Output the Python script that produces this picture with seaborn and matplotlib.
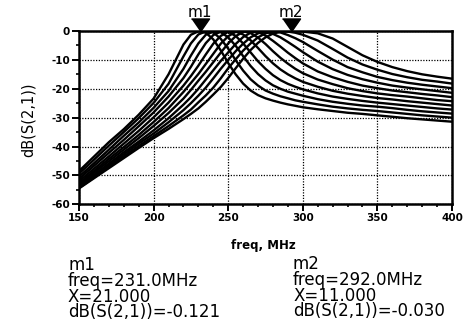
import numpy as np
import pandas as pd
import matplotlib
matplotlib.use('Agg')
import matplotlib.pyplot as plt
import seaborn as sns

# frequency sweep (MHz)
freq_mhz = [150, 160, 170, 180, 190, 200, 210, 220, 225, 230, 235, 240, 245, 250, 255, 260, 265,
            270, 275, 280, 285, 290, 295, 300, 310, 320, 330, 340, 350, 360, 370, 380, 390, 400]

# dB(S(2,1)) for each tuning value X
s21_x21 = [-48.5, -43.5, -38.5, -34.0, -29.0, -23.4, -15.0, -4.7, -1.3, -0.1, -0.6, -2.9, -6.7, -11.1, -15.0, -18.2, -20.6,
           -22.2, -23.3, -24.1, -24.8, -25.4, -25.9, -26.4, -27.1, -27.7, -28.3, -28.7, -29.2, -29.7, -30.2, -30.6, -31.0, -31.4]
s21_x20 = [-49.4, -44.6, -39.7, -35.0, -30.2, -24.9, -18.3, -8.8, -4.3, -1.2, -0.1, -0.5, -2.7, -6.1, -10.1, -13.7, -16.7,
           -18.9, -20.6, -21.7, -22.6, -23.3, -24.0, -24.5, -25.4, -26.2, -26.8, -27.3, -27.7, -28.2, -28.7, -29.2, -29.6, -30.0]
s21_x19 = [-50.4, -45.8, -41.1, -36.3, -31.7, -26.6, -20.8, -13.1, -8.5, -4.3, -1.3, -0.2, -0.4, -2.2, -5.1, -8.7, -12.1,
           -14.9, -17.1, -18.8, -20.0, -21.0, -21.7, -22.4, -23.6, -24.5, -25.2, -25.8, -26.2, -26.7, -27.3, -27.8, -28.2, -28.6]
s21_x18 = [-51.2, -46.7, -42.2, -37.7, -33.0, -28.2, -22.7, -16.3, -12.4, -8.1, -4.2, -1.4, -0.2, -0.3, -1.7, -4.3, -7.4,
           -10.5, -13.1, -15.3, -17.0, -18.3, -19.3, -20.2, -21.6, -22.7, -23.5, -24.2, -24.8, -25.3, -25.8, -26.3, -26.8, -27.2]
s21_x17 = [-52.0, -47.7, -43.4, -39.0, -34.6, -29.9, -24.8, -18.9, -15.6, -12.0, -8.1, -4.4, -1.7, -0.3, -0.2, -1.2, -3.2,
           -5.9, -8.7, -11.2, -13.3, -15.0, -16.4, -17.6, -19.3, -20.7, -21.7, -22.5, -23.2, -23.7, -24.3, -24.8, -25.3, -25.8]
s21_x16 = [-52.7, -48.5, -44.3, -40.2, -36.0, -31.5, -26.7, -21.1, -18.0, -14.9, -11.4, -7.9, -4.4, -1.8, -0.3, -0.1, -0.7,
           -2.3, -4.5, -7.0, -9.3, -11.3, -13.1, -14.6, -16.8, -18.4, -19.8, -20.8, -21.6, -22.2, -22.7, -23.3, -23.9, -24.3]
s21_x15 = [-53.2, -49.1, -45.1, -41.1, -37.1, -32.9, -28.4, -23.4, -20.4, -17.2, -14.1, -10.8, -7.5, -4.3, -1.8, -0.3, 0.0,
           -0.3, -1.6, -3.4, -5.4, -7.5, -9.4, -11.2, -14.0, -16.0, -17.6, -18.9, -19.8, -20.6, -21.2, -21.8, -22.3, -22.9]
s21_x14 = [-53.8, -49.8, -45.9, -42.0, -38.3, -34.4, -30.2, -25.5, -22.9, -20.0, -16.8, -13.6, -10.4, -7.4, -4.5, -2.1, -0.6,
           -0.1, -0.2, -1.0, -2.2, -3.8, -5.5, -7.3, -10.6, -13.2, -15.2, -16.7, -17.9, -18.9, -19.6, -20.2, -20.8, -21.4]
s21_x13 = [-54.1, -50.3, -46.5, -42.7, -39.0, -35.5, -31.6, -27.4, -25.0, -22.4, -19.6, -16.4, -13.1, -10.0, -7.0, -4.4, -2.2,
           -0.8, -0.1, -0.1, -0.5, -1.4, -2.5, -3.8, -6.9, -9.9, -12.5, -14.3, -15.9, -17.0, -17.9, -18.6, -19.2, -19.8]
s21_x12 = [-54.4, -50.7, -47.1, -43.4, -39.8, -36.4, -32.9, -29.2, -27.2, -24.7, -22.3, -19.6, -16.4, -12.9, -9.8, -6.8, -4.3,
           -2.2, -0.8, -0.2, 0.0, -0.2, -0.6, -1.3, -3.3, -6.2, -9.2, -11.6, -13.4, -14.9, -16.0, -16.9, -17.5, -18.2]
s21_x11 = [-54.5, -51.0, -47.5, -44.0, -40.5, -37.1, -33.9, -30.5, -28.7, -26.8, -24.5, -22.0, -19.4, -16.3, -12.9, -9.6, -6.6,
           -4.1, -2.2, -0.9, -0.3, 0.0, -0.1, -0.2, -0.8, -2.6, -5.5, -8.4, -10.7, -12.5, -13.9, -15.0, -15.8, -16.5]

# marker readouts
marker_names = ['m1', 'm2']
marker_freq = [231.0, 292.0]
marker_x = [21.0, 11.0]
marker_db = [-0.121, -0.030]

curves = {21: s21_x21, 20: s21_x20, 19: s21_x19, 18: s21_x18, 17: s21_x17, 16: s21_x16,
          15: s21_x15, 14: s21_x14, 13: s21_x13, 12: s21_x12, 11: s21_x11}

rows = []
for xval, vals in curves.items():
    for f, v in zip(freq_mhz, vals):
        rows.append({'freq': f, 'dB': v, 'X': xval})
df = pd.DataFrame(rows)

sns.set_style('ticks')
plt.rcParams['font.family'] = ['DejaVu Sans']
plt.rcParams['axes.unicode_minus'] = False
plt.rcParams['text.color'] = 'black'
plt.rcParams['axes.labelcolor'] = 'black'
plt.rcParams['xtick.color'] = 'black'
plt.rcParams['ytick.color'] = 'black'

fig = plt.figure(figsize=(4.68, 3.26), dpi=100)
ax = fig.add_axes([0.1688, 0.3733, 0.797, 0.5316])

sns.lineplot(data=df, x='freq', y='dB', hue='X', palette={k: 'black' for k in curves},
             estimator=None, sort=True, legend=False, linewidth=1.7, ax=ax)

ax.set_xlim(150, 400)
ax.set_ylim(-60, 0)
ax.set_xticks(range(150, 401, 50))
ax.set_xticks(range(150, 401, 10), minor=True)
ax.set_yticks(range(-60, 1, 10))
ax.set_yticks(range(-60, 1, 5), minor=True)
ax.set_xlabel('')
ax.set_ylabel('')

ax.grid(True, which='major', color='black', linestyle=(0, (1, 1.2)), linewidth=0.9)
ax.set_axisbelow(True)
for sp in ax.spines.values():
    sp.set_visible(True)
    sp.set_linewidth(1.8)
    sp.set_color('black')

ax.tick_params(which='major', direction='out', length=5, width=1.4, labelsize=7.5, pad=1.5,
               colors='black', labelcolor='black')
ax.tick_params(which='minor', direction='out', length=2.5, width=1.2, colors='black')
for lab in ax.get_xticklabels() + ax.get_yticklabels():
    lab.set_fontweight('bold')

# markers above the plot
tri = [(-1, 0.72), (1, 0.72), (0, -0.72)]
for name, f in zip(marker_names, marker_freq):
    ax.plot([f], [2.2], marker=tri, markersize=13, color='black', clip_on=False, linestyle='none')
    ax.text(f, 6.4, name, ha='center', va='center', fontsize=11, color='black', clip_on=False)

fig.text(28 / 468, 1 - 120 / 326, 'dB(S(2,1))', rotation=90, ha='center', va='center',
         fontsize=10.5, color='black')
fig.text(263 / 468, 1 - 246 / 326, 'freq, MHz', ha='center', va='center', fontsize=8.5,
         fontweight='bold', color='black')

# marker readout blocks, one multi-line text each
block_x = [68 / 468, 293 / 468]
block_top = [256, 255]
for i in range(2):
    txt = '\n'.join([marker_names[i],
                     'freq=%.1fMHz' % marker_freq[i],
                     'X=%.3f' % marker_x[i],
                     'dB(S(2,1))=%.3f' % marker_db[i]])
    fig.text(block_x[i], 1 - block_top[i] / 326, txt, ha='left', va='top', fontsize=12,
             linespacing=0.84, color='black')

fig.savefig('out.png', dpi=100)
